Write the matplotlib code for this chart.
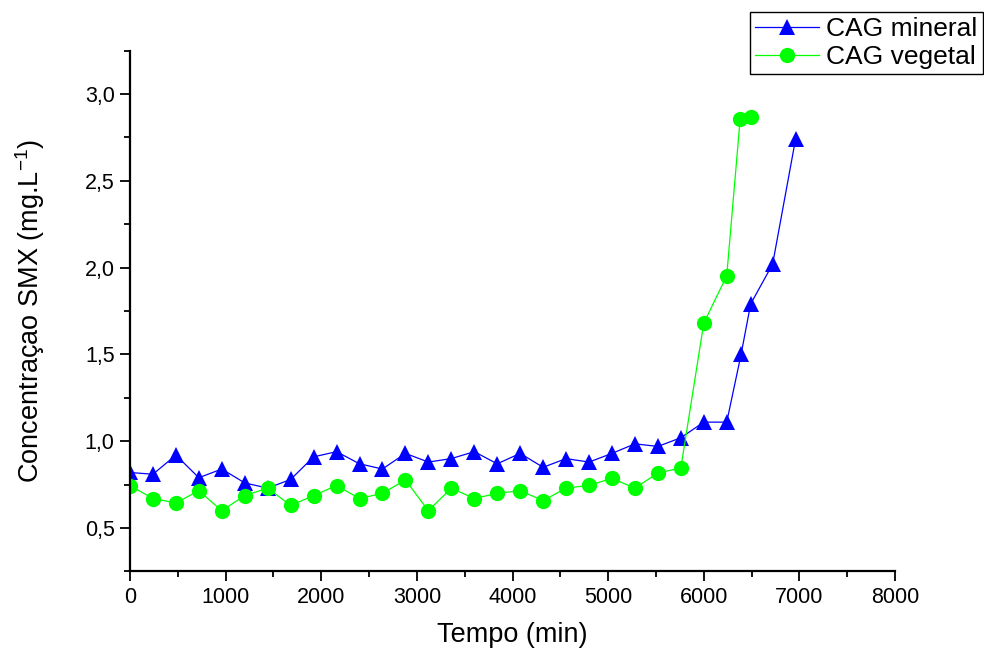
import matplotlib
matplotlib.use('Agg')
import matplotlib.pyplot as plt
from matplotlib.ticker import MultipleLocator, FuncFormatter

plt.rcParams['font.family'] = ['Liberation Sans', 'DejaVu Sans']
plt.rcParams['mathtext.fontset'] = 'custom'
plt.rcParams['mathtext.rm'] = 'Liberation Sans'
plt.rcParams['mathtext.default'] = 'regular'

# Data
t_mineral = [0, 240, 480, 720, 960, 1200, 1440, 1680, 1920, 2160, 2400, 2640,
             2880, 3120, 3360, 3600, 3840, 4080, 4320, 4560, 4800, 5040, 5280,
             5520, 5760, 6000, 6240, 6390, 6490, 6720, 6960]
c_mineral = [0.82, 0.81, 0.92, 0.79, 0.84, 0.76, 0.73, 0.78, 0.91, 0.94, 0.87, 0.84,
             0.93, 0.88, 0.90, 0.94, 0.87, 0.93, 0.85, 0.90, 0.88, 0.93, 0.985,
             0.97, 1.02, 1.11, 1.11, 1.50, 1.79, 2.02, 2.74]

t_vegetal = [0, 240, 480, 720, 960, 1200, 1440, 1680, 1920, 2160, 2400, 2640,
             2880, 3120, 3360, 3600, 3840, 4080, 4320, 4560, 4800, 5040, 5280,
             5520, 5760, 6000, 6240, 6380, 6490]
c_vegetal = [0.745, 0.67, 0.645, 0.715, 0.60, 0.687, 0.73, 0.63, 0.687, 0.745, 0.67, 0.70,
             0.777, 0.60, 0.73, 0.67, 0.70, 0.715, 0.658, 0.73, 0.746, 0.786, 0.73,
             0.817, 0.846, 1.68, 1.953, 2.853, 2.867]

fig = plt.figure(figsize=(9.84, 6.5), dpi=100)
ax = fig.add_axes([0.1321, 0.1208, 0.7775, 0.8015])

ax.plot(t_mineral, c_mineral, color='#0000FF', lw=0.9, marker='^', ms=11,
        markeredgewidth=0, label='CAG mineral')
ax.plot(t_vegetal, c_vegetal, color='#00FF00', lw=0.9, marker='o', ms=11,
        markeredgewidth=0, label='CAG vegetal')

ax.set_xlim(0, 8000)
ax.set_ylim(0.25, 3.25)
ax.xaxis.set_major_locator(MultipleLocator(1000))
ax.xaxis.set_minor_locator(MultipleLocator(500))
ax.yaxis.set_major_locator(MultipleLocator(0.5))
ax.yaxis.set_minor_locator(MultipleLocator(0.25))
ax.yaxis.set_major_formatter(FuncFormatter(lambda v, p: f'{v:.1f}'.replace('.', ',')))

for s in ['top', 'right']:
    ax.spines[s].set_visible(False)
for s in ['left', 'bottom']:
    ax.spines[s].set_linewidth(1.6)

ax.tick_params(which='major', direction='out', length=7.5, width=1.3, labelsize=15.5)
ax.tick_params(which='minor', direction='out', length=4, width=1.3)

ax.set_xlabel('Tempo (min)', fontsize=19.5, labelpad=10)
ax.set_ylabel('Concentraçao SMX (mg.L$^{-1}$)', fontsize=19.5, labelpad=27)

leg = fig.legend(loc='upper right', bbox_to_anchor=(0.999, 0.982), fontsize=19,
                 frameon=True, fancybox=False, edgecolor='black', framealpha=1,
                 borderpad=0.2, labelspacing=0.15, handlelength=2.4,
                 handletextpad=0.3, borderaxespad=0)
leg.get_frame().set_linewidth(1.0)

fig.savefig('out.png', dpi=100)
